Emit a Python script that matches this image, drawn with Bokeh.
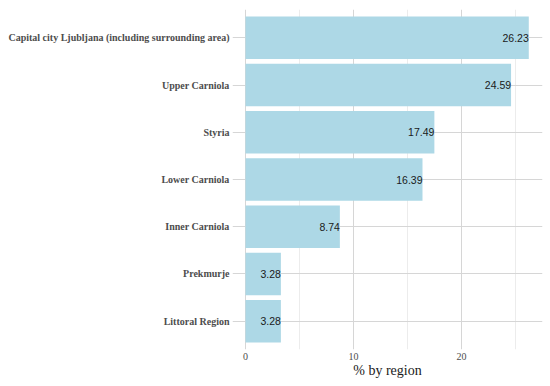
from bokeh.plotting import figure
from bokeh.models import Range1d, FixedTicker, ColumnDataSource
from bokeh.core.properties import value
from bokeh.embed import file_html
from bokeh.resources import INLINE

regions = ["Littoral Region", "Prekmurje", "Inner Carniola", "Lower Carniola",
           "Styria", "Upper Carniola", "Capital city Ljubljana (including surrounding area)"]
percents = [3.28, 3.28, 8.74, 16.39, 17.49, 24.59, 26.23]
x_ticks = [0, 10, 20]
x_minor = [5, 15, 25]

pos = list(range(len(regions)))
src = ColumnDataSource(dict(y=pos, region=regions, pct=percents,
                            lbl=["%.2f" % v for v in percents]))

p = figure(width=550, height=386, output_backend="svg", toolbar_location=None,
           y_range=Range1d(-0.6, len(regions) - 0.4),
           x_range=Range1d(-1.2, 27.5),
           min_border_left=232, min_border_right=8, min_border_top=9, min_border_bottom=37)
p.outline_line_color = None
p.background_fill_color = "white"

p.hbar(y="y", right="pct", left=0, height=0.9, source=src,
       fill_color="#ADD8E6", line_color=None)
p.text(x="pct", y="y", text="lbl", source=src, text_align="right",
       text_baseline="middle", text_font=value("Liberation Sans"),
       text_font_size="10.5px", text_color="#1a1a1a")

p.xaxis.ticker = FixedTicker(ticks=x_ticks, minor_ticks=x_minor)
p.xaxis.axis_line_color = None
p.xaxis.major_tick_line_color = None
p.xaxis.minor_tick_line_color = None
p.xaxis.major_tick_out = 0
p.xaxis.minor_tick_out = 0
p.xaxis.major_label_text_font = "Liberation Serif"
p.xaxis.major_label_text_font_size = "10px"
p.xaxis.major_label_text_color = "#4d4d4d"
p.xaxis.major_label_standoff = 3
p.xaxis.axis_label = "% by region"
p.xaxis.axis_label_text_font = "Liberation Serif"
p.xaxis.axis_label_text_font_style = "normal"
p.xaxis.axis_label_text_font_size = "14px"
p.xaxis.axis_label_text_color = "#1a1a1a"
p.xaxis.axis_label_standoff = 0

p.yaxis.ticker = FixedTicker(ticks=pos)
p.yaxis.major_label_overrides = {i: r for i, r in zip(pos, regions)}
p.yaxis.axis_line_color = None
p.yaxis.major_tick_line_color = None
p.yaxis.minor_tick_line_color = None
p.yaxis.major_tick_out = 0
p.yaxis.minor_tick_out = 0
p.yaxis.major_label_text_font = "Liberation Serif"
p.yaxis.major_label_text_font_style = "bold"
p.yaxis.major_label_text_font_size = "10px"
p.yaxis.major_label_text_color = "#4d4d4d"
p.yaxis.major_label_standoff = 3

p.xgrid.grid_line_color = "#d6d6d6"
p.xgrid.minor_grid_line_color = "#ececec"
p.ygrid.grid_line_color = "#d6d6d6"

open("out.html", "w").write(file_html(p, INLINE))
